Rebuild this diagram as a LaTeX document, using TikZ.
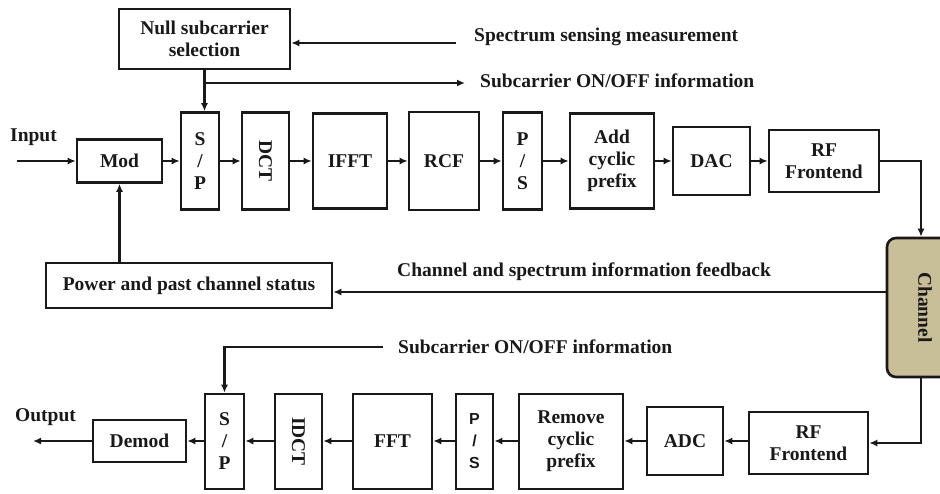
\documentclass[tikz,border=0pt]{standalone}
\usepackage{fontspec}
\setmainfont{Liberation Serif}
\newfontfamily\psfont{Liberation Sans}
\usetikzlibrary{arrows.meta}
\definecolor{chanfill}{RGB}{200,191,153}
\definecolor{ink}{RGB}{25,25,25}
\tikzset{
  blk/.style={draw=ink, line width=2.6pt, fill=white, align=center, inner sep=0pt,
    font=\fontsize{19.5}{22}\selectfont\bfseries, text=ink},
  lbl/.style={anchor=west, inner sep=0pt, font=\fontsize{19.5}{22}\selectfont\bfseries, text=ink},
  conn/.style={draw=ink, line width=2.3pt, -{Latex[length=8pt,width=7pt]}},
  plain/.style={draw=ink, line width=2.3pt}
}
\begin{document}
\begin{tikzpicture}[x=1pt,y=-1pt]
\useasboundingbox (0,0) rectangle (940,493);
\clip (0,0) rectangle (940,493);
% top row
\node[blk, minimum width=171pt, minimum height=60pt] (null) at (204.5,39) {Null subcarrier\\selection};
\node[blk, minimum width=85pt, minimum height=43pt] (mod) at (119.5,161) {Mod};
\node[blk, minimum width=38pt, minimum height=97pt] (sp1) at (200,161) {S\\/\\P};
\node[blk, minimum width=47pt, minimum height=97pt] (dct) at (265.5,161) {\rotatebox{-90}{DCT}};
\node[blk, minimum width=74pt, minimum height=95pt] (ifft) at (350,161) {IFFT};
\node[blk, minimum width=70pt, minimum height=98pt] (rcf) at (444,161) {RCF};
\node[blk, minimum width=39pt, minimum height=97pt] (ps1) at (522.5,161) {P\\/\\S};
\node[blk, minimum width=84pt, minimum height=95pt] (acp) at (612,161) {Add\\cyclic\\prefix};
\node[blk, minimum width=77pt, minimum height=68pt] (dac) at (711.5,161) {DAC};
\node[blk, minimum width=110pt, minimum height=62pt] (rf1) at (824,161) {RF\\Frontend};
% channel
\node[blk, fill=chanfill, rounded corners=9pt, minimum width=76pt, minimum height=139pt] (chan) at (925,307.5) {\rotatebox{-90}{Channel}};
% power
\node[blk, minimum width=286pt, minimum height=45pt] (power) at (189,285.5) {Power and past channel status};
% bottom row
\node[blk, minimum width=39pt, minimum height=95pt] (sp2) at (224.5,441.5) {S\\/\\P};
\node[blk, minimum width=47pt, minimum height=95pt] (idct) at (298.5,441.5) {\rotatebox{-90}{IDCT}};
\node[blk, minimum width=79pt, minimum height=95pt] (fft) at (392.5,441.5) {FFT};
\node[blk, minimum width=37pt, minimum height=95pt, font=\fontsize{16}{22}\selectfont\psfont\bfseries] (ps2) at (474.5,441.5) {P\\/\\S};
\node[blk, minimum width=104pt, minimum height=95pt] (rcp) at (571,441.5) {Remove\\cyclic\\prefix};
\node[blk, minimum width=76pt, minimum height=68pt] (adc) at (685,441) {ADC};
\node[blk, minimum width=119pt, minimum height=62pt] (rf2) at (808.5,443) {RF\\Frontend};
\node[blk, minimum width=93pt, minimum height=42pt] (demod) at (139.5,441) {Demod};
% labels
\node[lbl] (tin) at (10,137) {Input};
\node[lbl] (tout) at (15,417) {Output};
\node[lbl] (tss) at (474,37) {Spectrum sensing measurement};
\node[lbl] (ton1) at (480,81) {Subcarrier ON/OFF information};
\node[lbl] (tfb) at (397,272) {Channel and spectrum information feedback};
\node[lbl] (ton2) at (398,347) {Subcarrier ON/OFF information};
% coordinates
\coordinate (inS) at (17,161);
\coordinate (outE) at (33,441);
\coordinate (ssS) at (456,43);
\coordinate (br) at (204.5,83);
\coordinate (onE) at (465,83);
\coordinate (fbS) at (887,292);
\coordinate (on2S) at (383,347);
% top connectors
\draw[conn] (inS) -- (mod.west);
\draw[conn] (mod.east) -- (sp1.west);
\draw[conn] (sp1.east) -- (dct.west);
\draw[conn] (dct.east) -- (ifft.west);
\draw[conn] (ifft.east) -- (rcf.west);
\draw[conn] (rcf.east) -- (ps1.west);
\draw[conn] (ps1.east) -- (acp.west);
\draw[conn] (acp.east) -- (dac.west);
\draw[conn] (dac.east) -- (rf1.east -| rf1.west);
\draw[conn] (rf1.east) -| ([xshift=-4pt]chan.north);
\draw[conn] (ssS) -- (ssS -| null.east);
\draw[conn] (null.south) -- (null.south |- sp1.north);
\draw[conn] (br) -- (onE);
\draw[conn] (fbS) -- (fbS -| power.east);
\draw[conn] (mod.south |- power.north) -- (mod.south);
% bottom connectors
\draw[conn] ([xshift=-4pt]chan.south) |- (rf2.east);
\draw[conn] (rf2.west |- adc.east) -- (adc.east);
\draw[conn] (adc.west) -- (rcp.east |- adc.west);
\draw[conn] (rcp.west |- adc.west) -- (ps2.east |- adc.west);
\draw[conn] (ps2.west |- adc.west) -- (fft.east |- adc.west);
\draw[conn] (fft.west |- adc.west) -- (idct.east |- adc.west);
\draw[conn] (idct.west |- adc.west) -- (sp2.east |- adc.west);
\draw[conn] (sp2.west |- adc.west) -- (demod.east);
\draw[conn] (demod.west) -- (outE);
\draw[conn] (on2S) -| (sp2.north);
\end{tikzpicture}
\end{document}
